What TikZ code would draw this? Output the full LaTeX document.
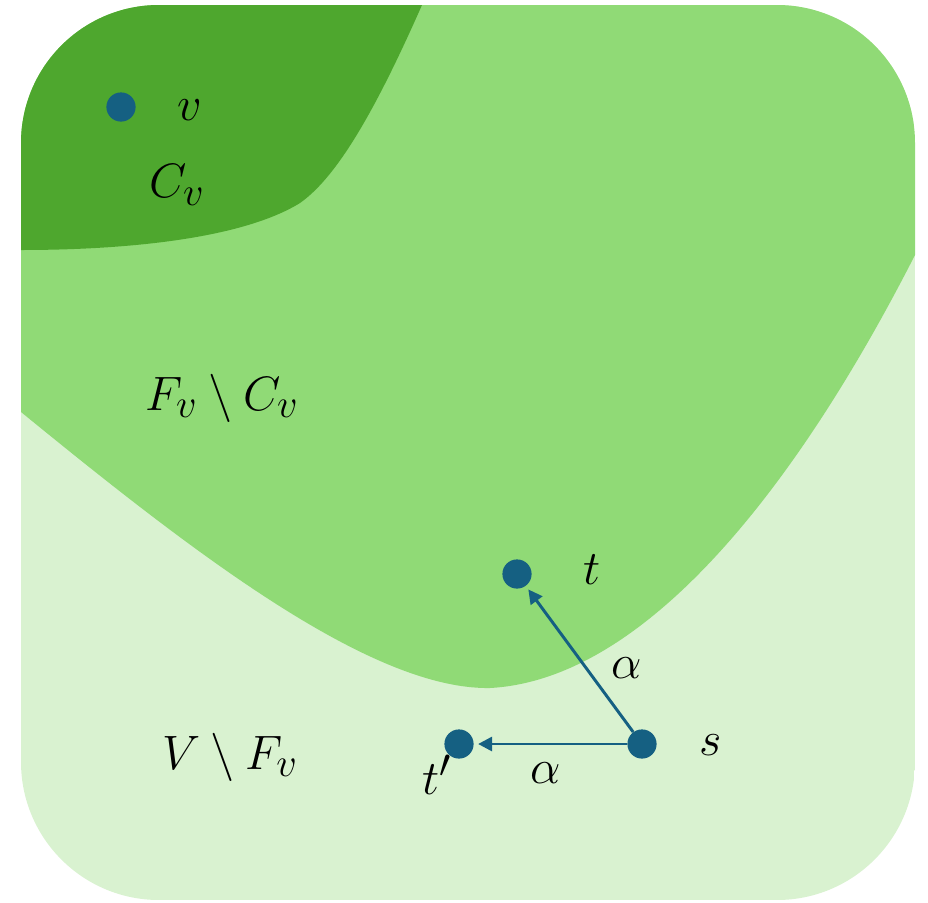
\documentclass[tikz,border=0pt]{standalone}
\usetikzlibrary{arrows.meta}
\definecolor{darkgrn}{HTML}{4EA72E}
\definecolor{midgrn}{HTML}{90DA76}
\definecolor{lightgrn}{HTML}{D9F2D0}
\definecolor{dotblue}{HTML}{156082}

\begin{document}
\begin{tikzpicture}[x=0.025cm, y=-0.025cm,
  dot/.style={circle, fill=dotblue, inner sep=0pt, minimum size=0.73cm},
  lbl/.style={inner sep=0pt, font=\Huge, scale=1.38, transform shape},
  edge/.style={draw=dotblue, line width=2.1pt,
    -{Triangle[length=10pt, width=10pt]}, shorten >=3pt}]
  \useasboundingbox (0,0) rectangle (928,902);
  \begin{scope}
    \clip[rounded corners=3.45cm] (21,5) rectangle (915,900);
    \fill[lightgrn] (21,5) rectangle (915,900);
    % F_v region
    \fill[midgrn] (21,5) -- (915,5) -- (915,255)
      .. controls (790,500) and (640,680) .. (490,688)
      .. controls (370,690) and (190,550) .. (21,412) -- cycle;
    % C_v region
    \fill[darkgrn] (21,5) -- (422,5)
      .. controls (380,100) and (340,175) .. (300,203)
      .. controls (240,240) and (120,250) .. (21,250) -- cycle;
  \end{scope}

  \node[dot] (v) at (121,107) {};
  \node[dot] (t) at (517,574) {};
  \node[dot] (tp) at (459,744) {};
  \node[dot] (s) at (642,744) {};

  \draw[edge] (s) -- (t);
  \draw[edge] (s) -- (tp);

  \node[lbl] (vlab) at (190,110) {$v$};
  \node[lbl] (cvlab) at (177,185) {$C_v$};
  \node[lbl] (fclab) at (222,398) {$F_v \setminus C_v$};
  \node[lbl] (vflab) at (230,757) {$V \setminus F_v$};
  \node[lbl] (tlab) at (592,570) {$t$};
  \node[lbl] (slab) at (711,745) {$s$};
  \node[lbl] (tplab) at (437,775) {$t'$};
  \node[lbl] (a1lab) at (627,668) {$\alpha$};
  \node[lbl] (a2lab) at (546,773) {$\alpha$};
\end{tikzpicture}
\end{document}
